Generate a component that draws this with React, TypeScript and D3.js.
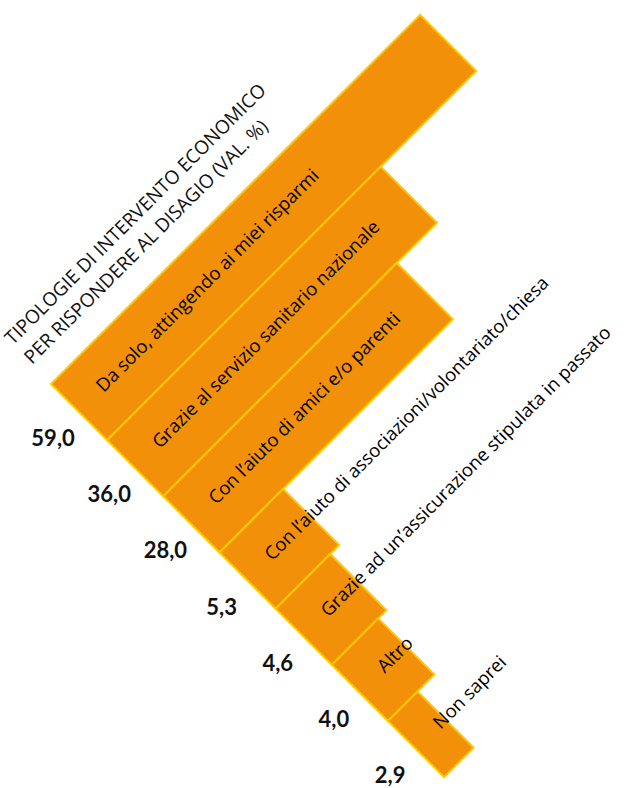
import React from "react";
import * as d3 from "d3";

const categories = [
  "Da solo, attingendo ai miei risparmi",
  "Grazie al servizio sanitario nazionale",
  "Con l’aiuto di amici e/o parenti",
  "Con l’aiuto di associazioni/volontariato/chiesa",
  "Grazie ad un’assicurazione stipulata in passato",
  "Altro",
  "Non saprei",
];
const values = [59.0, 36.0, 28.0, 5.3, 4.6, 4.0, 2.9];
const valueLabels = ["59,0", "36,0", "28,0", "5,3", "4,6", "4,0", "2,9"];
const titleLines = ["TIPOLOGIE DI INTERVENTO ECONOMICO", "PER RISPONDERE AL DISAGIO (VAL. %)"];

const W = 636;
const H = 788;
const ORIGIN = { x: 51, y: 384 };
const FILL = "#F29109";
const STROKE = "#FFC800";
const FONT = "'Open Sans', 'Noto Sans', sans-serif";
const VALUE_FONT = "Lato, 'Open Sans', sans-serif";

export default function App() {
  const band = d3.scaleBand<string>().domain(categories).range([0, 556]).padding(0);
  const len = d3.scaleSqrt().domain([1.4, 59]).range([0, 522]);
  const bw = band.bandwidth();
  const s = Math.SQRT1_2;

  return (
    <svg
      width={W}
      height={H}
      style={{ position: "absolute", left: 0, top: 0, background: "#fff" }}
      fontFamily={FONT}
    >
      <g transform={`translate(${ORIGIN.x},${ORIGIN.y}) rotate(-45)`}>
        {categories.map((c, i) => (
          <rect
            key={c}
            x={0}
            y={band(c)}
            width={len(values[i])}
            height={bw}
            fill={FILL}
            stroke={STROKE}
            strokeWidth={2}
          />
        ))}
        {categories.map((c) => (
          <text
            key={"t" + c}
            x={31}
            y={(band(c) as number) + bw / 2 + 4}
            fontSize={18.5}
            fontWeight={500}
            fill="#000"
          >
            {c}
          </text>
        ))}
        {titleLines.map((t, i) => (
          <text key={t} x={0} y={-54 + i * 27} fontSize={19} fontWeight={500} fill="#111">
            {t}
          </text>
        ))}
      </g>
      {categories.map((c, i) => {
        const t = (band(c) as number) + bw / 2;
        const cx = ORIGIN.x + t * s;
        const cy = ORIGIN.y + t * s;
        return (
          <text
            key={"v" + c}
            x={cx - 26}
            y={cy + 34}
            textAnchor="middle"
            fontFamily={VALUE_FONT}
            fontSize={22}
            fontWeight={700}
            fill="#111"
          >
            {valueLabels[i]}
          </text>
        );
      })}
    </svg>
  );
}
